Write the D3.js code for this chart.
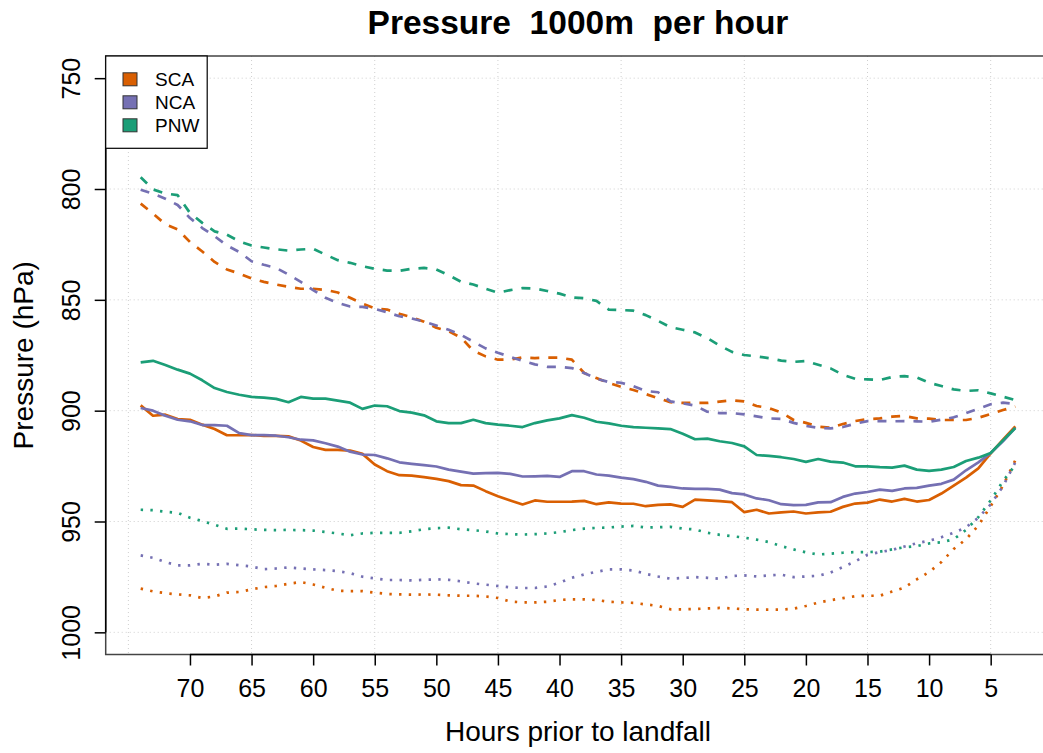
<!DOCTYPE html>
<html>
<head>
<meta charset="utf-8">
<script src="https://cdn.jsdelivr.net/npm/d3@7/dist/d3.min.js"></script>
<style>
  html, body { margin: 0; padding: 0; background: #fff; }
  svg { display: block; font-family: "Liberation Sans", Arial, Helvetica, sans-serif; }
</style>
</head>
<body>
<svg id="chart" width="1043" height="753"></svg>
<script>
// Hours prior to landfall, 74 down to 3
const hours = d3.range(74, 2, -1);

const regions = ["SCA", "NCA", "PNW"];
const regionColors = ["#D95F02", "#7570B3", "#1B9E77"];

const xTicks = [70, 65, 60, 55, 50, 45, 40, 35, 30, 25, 20, 15, 10, 5];
const xGrid = [75, 65, 55, 45, 35, 25, 15, 5];
const yTicks = [750, 800, 850, 900, 950, 1000];

// Pressure (hPa) per hour, one array per region and statistic
const scaDashed = [806.6,811.1,815.9,818.2,823.9,828.2,832.9,836.3,838.1,840.4,
  841.9,843.1,844.1,845.0,845.0,845.5,846.7,849.1,851.7,853.8,
  854.4,856.3,857.8,859.9,862.6,864.2,867.0,873.0,875.5,877.0,
  877.0,876.0,876.3,876.1,876.1,877.0,883.0,885.3,887.5,889.3,
  890.7,892.5,894.4,896.2,896.5,896.5,896.5,895.9,895.3,895.8,
  897.9,898.8,900.8,904.2,905.5,907.2,907.7,906.0,904.7,903.8,
  903.5,902.7,902.4,903.5,903.6,904.2,904.2,904.2,903.2,901.5,
  899.7,898.2];
const ncaDashed = [800.3,802.1,804.4,807.2,813.1,817.6,821.3,825.5,828.4,832.6,
  834.2,835.6,838.6,841.9,845.6,849.1,851.4,853.0,853.2,854.1,
  855.6,857.4,858.4,859.8,861.6,863.5,865.8,868.9,871.9,873.9,
  875.7,877.5,879.1,880.2,880.2,880.8,883.0,885.6,887.1,887.4,
  889.0,891.1,891.7,895.8,896.7,897.7,900.5,901.1,901.1,901.7,
  902.6,903.5,903.7,905.5,906.9,907.7,908.0,907.4,905.9,904.7,
  904.7,904.8,904.7,904.8,905.0,904.1,903.0,901.1,899.1,897.1,
  896.4,897.0];
const pnwDashed = [794.7,800.2,802.0,802.8,810.8,815.3,819.1,820.6,823.6,825.5,
  826.4,827.2,827.8,827.3,827.0,829.6,832.1,833.3,834.8,836.0,
  836.8,836.9,836.0,835.6,836.3,838.9,841.8,843.1,845.0,846.8,
  845.6,844.7,844.9,846.0,847.2,848.9,849.3,850.5,854.4,854.6,
  854.9,856.9,859.5,862.3,863.5,864.7,867.3,870.6,873.5,874.9,
  875.5,876.3,877.4,878.0,877.6,879.3,880.9,883.8,885.6,885.9,
  886.2,884.8,884.4,885.0,887.4,888.9,890.4,891.1,890.8,892.2,
  893.7,895.2];

const scaSolid = [897.6,902.3,901.8,903.8,904.1,906.3,908.3,911.1,911.1,911.0,
  911.4,911.4,911.6,913.5,916.4,917.7,917.7,918.0,919.5,924.3,
  927.3,929.1,929.3,930.0,930.8,931.8,933.6,933.8,936.3,938.6,
  940.5,942.3,940.5,941.1,941.1,941.0,940.7,942.2,941.4,941.9,
  942.0,943.1,942.5,942.3,943.4,940.1,940.5,940.8,941.3,945.8,
  944.7,946.4,945.9,945.5,946.4,945.9,945.6,943.4,941.9,941.5,
  940.1,941.0,939.8,941.0,940.3,937.4,933.8,930.2,926.0,919.3,
  913.1,907.1];
const ncaSolid = [898.8,900.0,902.3,904.1,904.8,906.5,906.5,906.8,910.1,911.0,
  911.0,911.3,912.0,913.1,913.4,914.7,916.2,918.5,919.8,920.0,
  921.5,923.3,924.0,924.6,925.2,926.6,927.5,928.4,928.2,928.1,
  928.5,929.7,929.6,929.4,929.9,927.3,927.3,928.8,929.3,930.2,
  930.9,932.1,933.8,934.4,935.1,935.3,935.3,935.6,937.2,937.8,
  939.6,940.4,942.2,942.6,942.5,941.4,941.3,938.9,937.4,936.7,
  935.6,936.2,935.1,934.8,933.8,933.0,931.1,926.9,923.3,919.1,
  913.8,907.8];
const pnwSolid = [878.2,877.5,879.4,881.5,883.3,886.3,889.8,891.6,892.8,893.8,
  894.1,894.7,896.2,893.8,894.6,894.6,895.5,896.4,899.2,897.7,
  898.0,900.2,900.9,902.1,904.8,905.6,905.6,904.1,905.6,906.3,
  906.8,907.4,905.6,904.4,903.5,902.0,903.2,905.0,905.7,906.8,
  907.4,907.7,908.0,908.3,910.4,912.9,912.6,913.8,914.6,916.1,
  920.0,920.4,921.0,921.8,923.1,921.8,923.0,923.4,925.1,925.1,
  925.5,925.7,924.8,926.6,927.2,926.6,925.4,922.7,921.2,919.1,
  913.4,907.8];

const scaDotted = [980.3,981.5,982.3,982.9,983.3,984.5,983.8,982.1,981.8,980.6,
  979.6,979.1,978.1,977.3,978.4,979.9,981.2,981.4,981.4,982.1,
  982.7,982.9,983.0,982.9,983.0,983.3,983.5,983.5,983.8,984.5,
  986.1,986.5,986.5,986.2,985.4,985.1,985.1,985.4,986.2,986.5,
  986.7,987.4,988.1,989.6,989.6,989.5,989.2,989.0,989.2,989.6,
  989.8,989.8,989.8,989.3,988.1,986.6,985.5,984.6,983.7,983.5,
  983.5,981.6,979.8,976.1,972.8,968.3,962.4,958.0,951.8,943.1,
  933.8,922.4];
const ncaDotted = [965.3,966.4,968.3,969.8,969.8,969.1,969.5,969.1,969.7,970.3,
  971.5,971.2,970.7,971.2,971.6,971.9,972.4,973.3,974.9,975.7,
  976.4,976.4,976.6,976.3,976.1,976.3,977.0,977.9,978.5,979.1,
  979.7,980.0,980.0,979.3,977.6,975.4,973.9,972.7,971.6,971.6,
  972.1,973.6,974.8,975.8,975.5,975.1,975.4,975.8,974.6,974.3,
  974.8,974.3,974.0,975.1,974.8,974.5,973.0,970.6,968.0,965.0,
  963.8,962.8,961.3,959.8,958.7,957.1,955.1,952.6,948.3,942.3,
  934.1,923.3];
const pnwDotted = [944.7,944.9,945.6,946.1,948.3,949.8,951.5,953.3,953.2,953.5,
  953.8,953.9,953.8,953.9,954.1,954.7,955.4,956.2,955.4,955.1,
  955.1,955.1,954.4,953.5,953.0,952.8,953.5,953.9,954.5,955.4,
  955.7,955.9,955.7,955.4,954.8,953.9,953.2,952.9,952.7,952.3,
  952.0,952.7,952.6,952.4,953.2,953.6,955.1,956.0,956.6,957.3,
  958.2,959.3,961.1,962.6,963.9,964.9,964.5,964.1,963.8,963.8,
  963.6,962.6,961.6,961.1,959.9,959.4,958.0,953.8,948.0,940.5,
  931.8,924.5];

// line styles: dashed, solid, dotted
const seriesList = [
  { region: "SCA", dash: "9,9",     values: scaDashed },
  { region: "NCA", dash: "9,9",     values: ncaDashed },
  { region: "PNW", dash: "9,9",     values: pnwDashed },
  { region: "SCA", dash: null,      values: scaSolid },
  { region: "NCA", dash: null,      values: ncaSolid },
  { region: "PNW", dash: null,      values: pnwSolid },
  { region: "SCA", dash: "2.4,7.3", values: scaDotted },
  { region: "NCA", dash: "2.4,7.3", values: ncaDotted },
  { region: "PNW", dash: "2.4,7.3", values: pnwDotted }
];

(function draw() {
  const svg = d3.select("#chart");
  const pL = 105.7, pR = 1050.3, pT = 56, pB = 654.5;

  const x = d3.scaleLinear().domain([76.84, 0.16]).range([pL, pR]);
  const y = d3.scaleLinear().domain([740, 1010]).range([pT, pB]);
  const color = d3.scaleOrdinal().domain(regions).range(regionColors);

  // grid
  const grid = svg.append("g")
    .attr("stroke", "#cfcfcf")
    .attr("stroke-width", 1)
    .attr("stroke-dasharray", "1,3");
  grid.selectAll("line.v").data(xGrid).join("line")
    .attr("class", "v")
    .attr("x1", d => x(d)).attr("x2", d => x(d))
    .attr("y1", pT).attr("y2", pB);
  grid.selectAll("line.h").data(yTicks).join("line")
    .attr("class", "h")
    .attr("x1", pL).attr("x2", pR)
    .attr("y1", d => y(d)).attr("y2", d => y(d));

  // plot box
  svg.append("rect")
    .attr("x", pL).attr("y", pT)
    .attr("width", pR - pL).attr("height", pB - pT)
    .attr("fill", "none")
    .attr("stroke", "#444")
    .attr("stroke-width", 1.5);

  // series
  const line = d3.line()
    .x((d, i) => x(hours[i]))
    .y(d => y(d));

  svg.append("g").selectAll("path").data(seriesList).join("path")
    .attr("d", s => line(s.values))
    .attr("fill", "none")
    .attr("stroke", s => color(s.region))
    .attr("stroke-width", 2.7)
    .attr("stroke-linejoin", "round")
    .attr("stroke-dasharray", s => s.dash);

  // x axis
  const xAxis = svg.append("g")
    .attr("transform", `translate(0,${pB})`)
    .call(d3.axisBottom(x).tickValues(xTicks).tickFormat(d3.format("d"))
      .tickSize(11).tickSizeOuter(0));
  xAxis.select(".domain").remove();
  xAxis.append("line")
    .attr("x1", x(70)).attr("x2", x(5))
    .attr("stroke", "#000").attr("stroke-width", 1.5);
  xAxis.selectAll(".tick line").attr("stroke", "#000").attr("stroke-width", 1.5);
  xAxis.selectAll(".tick text")
    .attr("fill", "#000")
    .attr("dy", null)
    .attr("y", 42)
    .style("font-size", "25px")
    .style("font-family", "'Liberation Sans', Arial, sans-serif");

  // y axis
  const yAxis = svg.append("g")
    .attr("transform", `translate(${pL},0)`)
    .call(d3.axisLeft(y).tickValues(yTicks).tickFormat(d3.format("d"))
      .tickSize(11).tickSizeOuter(0));
  yAxis.select(".domain").remove();
  yAxis.append("line")
    .attr("y1", y(750)).attr("y2", y(1000))
    .attr("stroke", "#000").attr("stroke-width", 1.5);
  yAxis.selectAll(".tick line").attr("stroke", "#000").attr("stroke-width", 1.5);
  yAxis.selectAll(".tick text")
    .attr("fill", "#000")
    .attr("x", null).attr("dy", null)
    .attr("text-anchor", "middle")
    .attr("transform", "translate(-26,0) rotate(-90)")
    .style("font-size", "25px")
    .style("font-family", "'Liberation Sans', Arial, sans-serif");

  // titles
  svg.append("text")
    .attr("x", (pL + pR) / 2).attr("y", 34)
    .attr("text-anchor", "middle")
    .style("font-size", "33.5px").style("font-weight", "bold")
    .style("white-space", "pre")
    .text("Pressure  1000m  per hour");

  svg.append("text")
    .attr("x", (pL + pR) / 2).attr("y", 741)
    .attr("text-anchor", "middle")
    .style("font-size", "28px")
    .text("Hours prior to landfall");

  svg.append("text")
    .attr("transform", `translate(33,${(pT + pB) / 2}) rotate(-90)`)
    .attr("text-anchor", "middle")
    .style("font-size", "28px")
    .text("Pressure (hPa)");

  // legend
  const legend = svg.append("g");
  legend.append("rect")
    .attr("x", pL).attr("y", pT)
    .attr("width", 101.5).attr("height", 92.3)
    .attr("fill", "#fff").attr("stroke", "#000").attr("stroke-width", 1.2);
  const items = legend.selectAll("g.item").data(regions).join("g")
    .attr("class", "item")
    .attr("transform", (d, i) => `translate(0,${79.3 + i * 23})`);
  items.append("rect")
    .attr("x", 123).attr("y", -6.5)
    .attr("width", 14).attr("height", 13)
    .attr("fill", d => color(d))
    .attr("stroke", "#333").attr("stroke-width", 1);
  items.append("text")
    .attr("x", 155).attr("y", 7)
    .style("font-size", "19px")
    .text(d => d);
})();
</script>
</body>
</html>
